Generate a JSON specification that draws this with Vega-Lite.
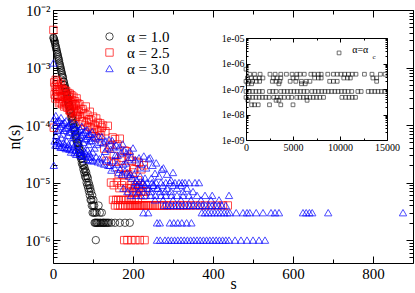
{
"$schema":"https://vega.github.io/schema/vega-lite/v6.json",
"width":360,"height":253,
"autosize":{"type":"none"},
"padding":{"left":53,"top":10,"right":2,"bottom":30},
"background":"white",
"config":{"view":{"stroke":null},"font":"Liberation Serif",
"axis":{"grid":false,"domainColor":"#000","tickColor":"#000","labelColor":"#000","titleColor":"#000","labelFont":"Liberation Serif","titleFont":"Liberation Serif","titleFontWeight":"normal","domainWidth":1,"tickWidth":1,"labelFlush":false}},
"resolve":{"scale":{"x":"independent","y":"independent"},"axis":{"x":"independent","y":"independent"}},
"datasets":{
"main":[
{"a":"1.0","s":1,"n":3.3e-3},{"a":"1.0","s":2,"n":3.2e-3},{"a":"1.0","s":3,"n":3.0e-3},{"a":"1.0","s":4,"n":2.85e-3},{"a":"1.0","s":5,"n":2.7e-3},{"a":"1.0","s":6,"n":2.45e-3},{"a":"1.0","s":7,"n":2.3e-3},{"a":"1.0","s":8,"n":2.15e-3},{"a":"1.0","s":9,"n":2.0e-3},{"a":"1.0","s":10,"n":1.86e-3},
{"a":"1.0","s":11,"n":1.74e-3},{"a":"1.0","s":12,"n":1.62e-3},{"a":"1.0","s":13,"n":1.51e-3},{"a":"1.0","s":14,"n":1.41e-3},{"a":"1.0","s":15,"n":1.32e-3},{"a":"1.0","s":16,"n":1.2e-3},{"a":"1.0","s":17,"n":1.12e-3},{"a":"1.0","s":18,"n":1.05e-3},{"a":"1.0","s":19,"n":9.8e-4},{"a":"1.0","s":20,"n":9.1e-4},
{"a":"1.0","s":21,"n":8.5e-4},{"a":"1.0","s":22,"n":7.9e-4},{"a":"1.0","s":23,"n":7.4e-4},{"a":"1.0","s":24,"n":6.9e-4},{"a":"1.0","s":25,"n":6.6e-4},{"a":"1.0","s":26,"n":5.7e-4},{"a":"1.0","s":27,"n":5.7e-4},{"a":"1.0","s":28,"n":4.9e-4},{"a":"1.0","s":29,"n":5.0e-4},{"a":"1.0","s":30,"n":4.3e-4},
{"a":"1.0","s":31,"n":4.4e-4},{"a":"1.0","s":32,"n":3.7e-4},{"a":"1.0","s":33,"n":3.8e-4},{"a":"1.0","s":34,"n":3.2e-4},{"a":"1.0","s":35,"n":3.4e-4},{"a":"1.0","s":36,"n":2.8e-4},{"a":"1.0","s":37,"n":2.9e-4},{"a":"1.0","s":38,"n":2.4e-4},{"a":"1.0","s":39,"n":2.5e-4},{"a":"1.0","s":40,"n":2.1e-4},
{"a":"1.0","s":41,"n":2.2e-4},{"a":"1.0","s":42,"n":1.8e-4},{"a":"1.0","s":43,"n":1.9e-4},{"a":"1.0","s":44,"n":1.6e-4},{"a":"1.0","s":45,"n":1.65e-4},{"a":"1.0","s":46,"n":1.35e-4},{"a":"1.0","s":47,"n":1.42e-4},{"a":"1.0","s":48,"n":1.17e-4},{"a":"1.0","s":49,"n":1.23e-4},{"a":"1.0","s":50,"n":1.02e-4},
{"a":"1.0","s":51,"n":1.07e-4},{"a":"1.0","s":52,"n":8.9e-5},{"a":"1.0","s":53,"n":9.3e-5},{"a":"1.0","s":54,"n":7.7e-5},{"a":"1.0","s":55,"n":8.1e-5},{"a":"1.0","s":56,"n":6.6e-5},{"a":"1.0","s":57,"n":6.9e-5},{"a":"1.0","s":58,"n":5.7e-5},{"a":"1.0","s":59,"n":6.0e-5},{"a":"1.0","s":60,"n":4.9e-5},
{"a":"1.0","s":61,"n":5.0e-5},{"a":"1.0","s":62,"n":4.4e-5},{"a":"1.0","s":63,"n":4.8e-5},{"a":"1.0","s":64,"n":3.9e-5},{"a":"1.0","s":65,"n":4.2e-5},{"a":"1.0","s":66,"n":3.3e-5},{"a":"1.0","s":67,"n":3.7e-5},{"a":"1.0","s":68,"n":2.9e-5},{"a":"1.0","s":69,"n":3.2e-5},{"a":"1.0","s":70,"n":2.6e-5},
{"a":"1.0","s":71,"n":2.9e-5},{"a":"1.0","s":72,"n":2.2e-5},{"a":"1.0","s":73,"n":2.6e-5},{"a":"1.0","s":74,"n":2.0e-5},{"a":"1.0","s":75,"n":2.3e-5},{"a":"1.0","s":76,"n":1.7e-5},{"a":"1.0","s":77,"n":2.0e-5},{"a":"1.0","s":78,"n":1.5e-5},{"a":"1.0","s":79,"n":1.8e-5},{"a":"1.0","s":80,"n":1.3e-5},
{"a":"1.0","s":81,"n":1.6e-5},{"a":"1.0","s":82,"n":1.2e-5},{"a":"1.0","s":83,"n":1.5e-5},{"a":"1.0","s":84,"n":1.0e-5},{"a":"1.0","s":85,"n":1.3e-5},{"a":"1.0","s":86,"n":9e-6},{"a":"1.0","s":87,"n":1.2e-5},{"a":"1.0","s":88,"n":8e-6},{"a":"1.0","s":89,"n":1.0e-5},{"a":"1.0","s":90,"n":7e-6},
{"a":"1.0","s":91,"n":9e-6},{"a":"1.0","s":92,"n":6e-6},{"a":"1.0","s":93,"n":8e-6},{"a":"1.0","s":94,"n":5e-6},{"a":"1.0","s":95,"n":7e-6},{"a":"1.0","s":96,"n":5e-6},{"a":"1.0","s":97,"n":4e-6},{"a":"1.0","s":98,"n":6e-6},{"a":"1.0","s":99,"n":3e-6},{"a":"1.0","s":100,"n":4e-6},
{"a":"1.0","s":101,"n":5e-6},{"a":"1.0","s":102,"n":3e-6},{"a":"1.0","s":103,"n":4e-6},{"a":"1.0","s":104,"n":2e-6},{"a":"1.0","s":105,"n":3e-6},{"a":"1.0","s":106,"n":2e-6},{"a":"1.0","s":107,"n":1e-6},{"a":"1.0","s":108,"n":2e-6},{"a":"1.0","s":109,"n":3e-6},{"a":"1.0","s":110,"n":2e-6},
{"a":"1.0","s":112,"n":2e-6},{"a":"1.0","s":114,"n":4e-6},{"a":"1.0","s":115,"n":2e-6},{"a":"1.0","s":117,"n":3e-6},{"a":"1.0","s":118,"n":2e-6},{"a":"1.0","s":120,"n":2e-6},{"a":"1.0","s":122,"n":3e-6},{"a":"1.0","s":124,"n":2e-6},{"a":"1.0","s":126,"n":2e-6},{"a":"1.0","s":128,"n":2e-6},
{"a":"1.0","s":131,"n":2e-6},{"a":"1.0","s":134,"n":2e-6},{"a":"1.0","s":137,"n":2e-6},{"a":"1.0","s":140,"n":2e-6},{"a":"1.0","s":146,"n":2e-6},{"a":"1.0","s":155,"n":2e-6},{"a":"1.0","s":167,"n":2e-6},{"a":"1.0","s":180,"n":2e-6},{"a":"1.0","s":192,"n":2e-6},
{"a":"2.5","s":1,"n":4.5e-3},{"a":"2.5","s":2,"n":9e-5},
{"a":"2.5","s":3,"n":5.5e-4},{"a":"2.5","s":4,"n":3.4e-4},{"a":"2.5","s":5,"n":4.6e-4},{"a":"2.5","s":6,"n":2.9e-4},{"a":"2.5","s":7,"n":6.1e-4},{"a":"2.5","s":8,"n":3.8e-4},{"a":"2.5","s":9,"n":5.0e-4},{"a":"2.5","s":10,"n":3.2e-4},{"a":"2.5","s":11,"n":4.2e-4},{"a":"2.5","s":12,"n":5.7e-4},
{"a":"2.5","s":13,"n":3.1e-4},{"a":"2.5","s":14,"n":4.1e-4},{"a":"2.5","s":15,"n":2.4e-4},{"a":"2.5","s":16,"n":4.7e-4},{"a":"2.5","s":17,"n":2.9e-4},{"a":"2.5","s":18,"n":4.0e-4},{"a":"2.5","s":19,"n":2.5e-4},{"a":"2.5","s":20,"n":5.2e-4},{"a":"2.5","s":21,"n":3.2e-4},{"a":"2.5","s":22,"n":4.3e-4},
{"a":"2.5","s":23,"n":2.3e-4},{"a":"2.5","s":24,"n":3.1e-4},{"a":"2.5","s":25,"n":4.2e-4},{"a":"2.5","s":26,"n":2.6e-4},{"a":"2.5","s":27,"n":3.6e-4},{"a":"2.5","s":28,"n":2.1e-4},{"a":"2.5","s":29,"n":4.0e-4},{"a":"2.5","s":30,"n":2.5e-4},{"a":"2.5","s":31,"n":3.4e-4},{"a":"2.5","s":32,"n":2.2e-4},
{"a":"2.5","s":33,"n":3.9e-4},{"a":"2.5","s":34,"n":2.4e-4},{"a":"2.5","s":35,"n":3.2e-4},{"a":"2.5","s":36,"n":2.0e-4},{"a":"2.5","s":37,"n":2.7e-4},{"a":"2.5","s":38,"n":3.6e-4},{"a":"2.5","s":39,"n":2.3e-4},{"a":"2.5","s":40,"n":3.1e-4},{"a":"2.5","s":41,"n":1.8e-4},{"a":"2.5","s":42,"n":3.5e-4},
{"a":"2.5","s":43,"n":1.8e-4},{"a":"2.5","s":44,"n":2.5e-4},{"a":"2.5","s":45,"n":1.6e-4},{"a":"2.5","s":46,"n":3.3e-4},{"a":"2.5","s":47,"n":2.1e-4},{"a":"2.5","s":48,"n":2.7e-4},{"a":"2.5","s":49,"n":1.7e-4},{"a":"2.5","s":50,"n":2.3e-4},{"a":"2.5","s":51,"n":3.1e-4},{"a":"2.5","s":52,"n":1.9e-4},
{"a":"2.5","s":53,"n":2.3e-4},{"a":"2.5","s":54,"n":1.3e-4},{"a":"2.5","s":55,"n":2.6e-4},{"a":"2.5","s":56,"n":1.6e-4},{"a":"2.5","s":57,"n":2.2e-4},{"a":"2.5","s":58,"n":1.4e-4},{"a":"2.5","s":59,"n":2.9e-4},{"a":"2.5","s":60,"n":1.8e-4},{"a":"2.5","s":61,"n":2.4e-4},{"a":"2.5","s":62,"n":1.5e-4},
{"a":"2.5","s":64,"n":1.7e-4},{"a":"2.5","s":66,"n":2.3e-4},{"a":"2.5","s":68,"n":1.4e-4},{"a":"2.5","s":70,"n":1.9e-4},{"a":"2.5","s":72,"n":1.15e-4},{"a":"2.5","s":74,"n":1.9e-4},{"a":"2.5","s":76,"n":1.16e-4},{"a":"2.5","s":78,"n":1.6e-4},{"a":"2.5","s":80,"n":1.0e-4},{"a":"2.5","s":82,"n":2.1e-4},
{"a":"2.5","s":84,"n":1.1e-4},{"a":"2.5","s":86,"n":1.5e-4},{"a":"2.5","s":88,"n":9.4e-5},{"a":"2.5","s":90,"n":1.25e-4},{"a":"2.5","s":92,"n":1.7e-4},{"a":"2.5","s":94,"n":9.1e-5},{"a":"2.5","s":96,"n":1.2e-4},{"a":"2.5","s":98,"n":7.3e-5},{"a":"2.5","s":100,"n":1.4e-4},{"a":"2.5","s":102,"n":8.6e-5},
{"a":"2.5","s":104,"n":1.0e-4},{"a":"2.5","s":106,"n":6.4e-5},{"a":"2.5","s":108,"n":1.3e-4},{"a":"2.5","s":110,"n":8.3e-5},{"a":"2.5","s":112,"n":1.1e-4},{"a":"2.5","s":114,"n":5.9e-5},{"a":"2.5","s":116,"n":7.9e-5},{"a":"2.5","s":118,"n":1.07e-4},{"a":"2.5","s":120,"n":6.7e-5},{"a":"2.5","s":122,"n":9.1e-5},
{"a":"2.5","s":125,"n":9.8e-5},{"a":"2.5","s":128,"n":3.9e-5},{"a":"2.5","s":131,"n":7.8e-5},{"a":"2.5","s":134,"n":2.4e-5},{"a":"2.5","s":137,"n":9.7e-5},{"a":"2.5","s":140,"n":4.1e-5},{"a":"2.5","s":143,"n":4.5e-5},{"a":"2.5","s":146,"n":2.3e-5},{"a":"2.5","s":149,"n":6.1e-5},{"a":"2.5","s":152,"n":2.9e-5},
{"a":"2.5","s":155,"n":5.7e-5},{"a":"2.5","s":158,"n":2.3e-5},{"a":"2.5","s":161,"n":4.6e-5},{"a":"2.5","s":164,"n":1.4e-5},{"a":"2.5","s":167,"n":5.8e-5},{"a":"2.5","s":170,"n":2.4e-5},{"a":"2.5","s":173,"n":2.7e-5},{"a":"2.5","s":176,"n":1.35e-5},{"a":"2.5","s":179,"n":3.6e-5},{"a":"2.5","s":182,"n":1.8e-5},
{"a":"2.5","s":185,"n":3.5e-5},{"a":"2.5","s":188,"n":1.4e-5},{"a":"2.5","s":191,"n":2.8e-5},{"a":"2.5","s":194,"n":9e-6},{"a":"2.5","s":197,"n":2.4e-5},{"a":"2.5","s":200,"n":1.5e-5},{"a":"2.5","s":203,"n":1.7e-5},{"a":"2.5","s":206,"n":8e-6},{"a":"2.5","s":209,"n":2.3e-5},{"a":"2.5","s":212,"n":1.1e-5},
{"a":"2.5","s":215,"n":2.2e-5},{"a":"2.5","s":218,"n":9e-6},{"a":"2.5","s":221,"n":1.7e-5},{"a":"2.5","s":224,"n":7e-6},{"a":"2.5","s":227,"n":2.0e-5},
{"a":"2.5","s":145,"n":1e-5},{"a":"2.5","s":152,"n":9e-6},{"a":"2.5","s":160,"n":1e-5},{"a":"2.5","s":166,"n":8e-6},{"a":"2.5","s":172,"n":9e-6},{"a":"2.5","s":178,"n":1e-5},{"a":"2.5","s":184,"n":8e-6},{"a":"2.5","s":190,"n":7e-6},{"a":"2.5","s":196,"n":8e-6},{"a":"2.5","s":200,"n":7e-6},
{"a":"2.5","s":205,"n":9e-6},{"a":"2.5","s":210,"n":7e-6},{"a":"2.5","s":215,"n":8e-6},{"a":"2.5","s":220,"n":7e-6},{"a":"2.5","s":226,"n":6e-6},{"a":"2.5","s":232,"n":7e-6},
{"a":"2.5","s":150,"n":5e-6},{"a":"2.5","s":158,"n":5e-6},{"a":"2.5","s":163,"n":5e-6},{"a":"2.5","s":170,"n":5e-6},{"a":"2.5","s":176,"n":5e-6},{"a":"2.5","s":183,"n":5e-6},{"a":"2.5","s":190,"n":5e-6},{"a":"2.5","s":197,"n":5e-6},{"a":"2.5","s":204,"n":5e-6},{"a":"2.5","s":212,"n":5e-6},
{"a":"2.5","s":155,"n":4e-6},{"a":"2.5","s":162,"n":4e-6},{"a":"2.5","s":168,"n":4e-6},{"a":"2.5","s":175,"n":4e-6},{"a":"2.5","s":181,"n":4e-6},{"a":"2.5","s":187,"n":4e-6},{"a":"2.5","s":192,"n":4e-6},{"a":"2.5","s":196,"n":4e-6},{"a":"2.5","s":200,"n":4e-6},{"a":"2.5","s":204,"n":4e-6},
{"a":"2.5","s":208,"n":4e-6},{"a":"2.5","s":212,"n":4e-6},{"a":"2.5","s":216,"n":4e-6},{"a":"2.5","s":220,"n":4e-6},{"a":"2.5","s":224,"n":4e-6},{"a":"2.5","s":228,"n":4e-6},{"a":"2.5","s":232,"n":4e-6},{"a":"2.5","s":236,"n":4e-6},{"a":"2.5","s":240,"n":4e-6},{"a":"2.5","s":245,"n":4e-6},
{"a":"2.5","s":250,"n":4e-6},{"a":"2.5","s":255,"n":4e-6},{"a":"2.5","s":260,"n":4e-6},{"a":"2.5","s":266,"n":4e-6},{"a":"2.5","s":272,"n":4e-6},{"a":"2.5","s":278,"n":4e-6},{"a":"2.5","s":285,"n":4e-6},{"a":"2.5","s":292,"n":4e-6},{"a":"2.5","s":300,"n":4e-6},{"a":"2.5","s":310,"n":4e-6},
{"a":"2.5","s":318,"n":4e-6},{"a":"2.5","s":326,"n":4e-6},{"a":"2.5","s":335,"n":4e-6},{"a":"2.5","s":345,"n":4e-6},{"a":"2.5","s":356,"n":4e-6},{"a":"2.5","s":368,"n":4e-6},{"a":"2.5","s":380,"n":4e-6},{"a":"2.5","s":395,"n":4e-6},{"a":"2.5","s":410,"n":4e-6},{"a":"2.5","s":425,"n":4e-6},{"a":"2.5","s":437,"n":4e-6},
{"a":"2.5","s":178,"n":1e-6},{"a":"2.5","s":186,"n":1e-6},{"a":"2.5","s":196,"n":1e-6},{"a":"2.5","s":206,"n":1e-6},{"a":"2.5","s":217,"n":1e-6},{"a":"2.5","s":229,"n":1e-6},
{"a":"3.0","s":1,"n":1.2e-3},{"a":"3.0","s":2,"n":2.0e-5},
{"a":"3.0","s":3,"n":1.3e-4},{"a":"3.0","s":4,"n":5.3e-5},{"a":"3.0","s":5,"n":1.0e-4},{"a":"3.0","s":6,"n":4.5e-5},{"a":"3.0","s":7,"n":1.46e-4},{"a":"3.0","s":8,"n":6.5e-5},{"a":"3.0","s":9,"n":1.13e-4},{"a":"3.0","s":10,"n":4.9e-5},{"a":"3.0","s":11,"n":8.1e-5},{"a":"3.0","s":12,"n":1.2e-4},
{"a":"3.0","s":13,"n":5.3e-5},{"a":"3.0","s":14,"n":8.6e-5},{"a":"3.0","s":15,"n":4.4e-5},{"a":"3.0","s":16,"n":1.2e-4},{"a":"3.0","s":17,"n":4.9e-5},{"a":"3.0","s":18,"n":9.4e-5},{"a":"3.0","s":19,"n":4.1e-5},{"a":"3.0","s":20,"n":1.35e-4},{"a":"3.0","s":21,"n":6.0e-5},{"a":"3.0","s":22,"n":1.05e-4},
{"a":"3.0","s":23,"n":4.2e-5},{"a":"3.0","s":24,"n":7.0e-5},{"a":"3.0","s":25,"n":1.05e-4},{"a":"3.0","s":26,"n":4.9e-5},{"a":"3.0","s":27,"n":8.1e-5},{"a":"3.0","s":28,"n":4.1e-5},{"a":"3.0","s":29,"n":1.12e-4},{"a":"3.0","s":30,"n":4.6e-5},{"a":"3.0","s":31,"n":8.8e-5},{"a":"3.0","s":32,"n":3.9e-5},
{"a":"3.0","s":33,"n":1.19e-4},{"a":"3.0","s":34,"n":5.3e-5},{"a":"3.0","s":35,"n":9.2e-5},{"a":"3.0","s":36,"n":4.0e-5},{"a":"3.0","s":37,"n":6.6e-5},{"a":"3.0","s":38,"n":9.9e-5},{"a":"3.0","s":39,"n":4.6e-5},{"a":"3.0","s":40,"n":7.6e-5},{"a":"3.0","s":41,"n":3.8e-5},{"a":"3.0","s":42,"n":1.06e-4},
{"a":"3.0","s":43,"n":4.0e-5},{"a":"3.0","s":44,"n":7.6e-5},{"a":"3.0","s":45,"n":3.4e-5},{"a":"3.0","s":46,"n":1.1e-4},{"a":"3.0","s":47,"n":4.9e-5},{"a":"3.0","s":48,"n":8.5e-5},{"a":"3.0","s":49,"n":3.7e-5},{"a":"3.0","s":50,"n":6.1e-5},{"a":"3.0","s":51,"n":9.2e-5},{"a":"3.0","s":52,"n":4.3e-5},
{"a":"3.0","s":53,"n":6.6e-5},{"a":"3.0","s":54,"n":3.3e-5},{"a":"3.0","s":55,"n":9.1e-5},{"a":"3.0","s":56,"n":3.7e-5},{"a":"3.0","s":57,"n":7.1e-5},{"a":"3.0","s":58,"n":3.1e-5},{"a":"3.0","s":59,"n":1.03e-4},{"a":"3.0","s":60,"n":4.6e-5},{"a":"3.0","s":61,"n":8.0e-5},{"a":"3.0","s":62,"n":3.4e-5},
{"a":"3.0","s":63,"n":5.3e-5},{"a":"3.0","s":64,"n":8.0e-5},{"a":"3.0","s":65,"n":3.7e-5},{"a":"3.0","s":66,"n":6.1e-5},{"a":"3.0","s":67,"n":3.1e-5},{"a":"3.0","s":68,"n":8.5e-5},{"a":"3.0","s":69,"n":3.4e-5},{"a":"3.0","s":70,"n":6.6e-5},{"a":"3.0","s":71,"n":2.9e-5},{"a":"3.0","s":72,"n":9.5e-5},
{"a":"3.0","s":73,"n":4.0e-5},{"a":"3.0","s":74,"n":7.0e-5},{"a":"3.0","s":75,"n":3.0e-5},{"a":"3.0","s":76,"n":5.0e-5},{"a":"3.0","s":77,"n":7.5e-5},{"a":"3.0","s":78,"n":3.5e-5},{"a":"3.0","s":79,"n":5.8e-5},{"a":"3.0","s":80,"n":2.9e-5},{"a":"3.0","s":81,"n":8.0e-5},{"a":"3.0","s":82,"n":3.3e-5},
{"a":"3.0","s":83,"n":5.8e-5},{"a":"3.0","s":84,"n":2.5e-5},{"a":"3.0","s":85,"n":8.3e-5},{"a":"3.0","s":86,"n":3.7e-5},{"a":"3.0","s":87,"n":6.4e-5},{"a":"3.0","s":88,"n":2.8e-5},{"a":"3.0","s":89,"n":4.6e-5},{"a":"3.0","s":90,"n":6.9e-5},{"a":"3.0","s":91,"n":3.2e-5},{"a":"3.0","s":92,"n":5.3e-5},
{"a":"3.0","s":93,"n":2.5e-5},{"a":"3.0","s":94,"n":6.9e-5},{"a":"3.0","s":95,"n":2.8e-5},{"a":"3.0","s":96,"n":5.4e-5},{"a":"3.0","s":97,"n":2.4e-5},{"a":"3.0","s":98,"n":7.7e-5},{"a":"3.0","s":99,"n":3.4e-5},{"a":"3.0","s":100,"n":6.0e-5},
{"a":"3.0","s":102,"n":2.4e-5},{"a":"3.0","s":104,"n":4.0e-5},{"a":"3.0","s":106,"n":6.0e-5},{"a":"3.0","s":108,"n":2.8e-5},{"a":"3.0","s":110,"n":4.6e-5},{"a":"3.0","s":112,"n":2.3e-5},{"a":"3.0","s":114,"n":6.4e-5},{"a":"3.0","s":116,"n":2.6e-5},{"a":"3.0","s":118,"n":5.0e-5},{"a":"3.0","s":120,"n":2.2e-5},
{"a":"3.0","s":122,"n":6.3e-5},{"a":"3.0","s":124,"n":2.8e-5},{"a":"3.0","s":126,"n":4.9e-5},{"a":"3.0","s":128,"n":2.1e-5},{"a":"3.0","s":130,"n":3.5e-5},{"a":"3.0","s":132,"n":5.3e-5},{"a":"3.0","s":134,"n":2.5e-5},{"a":"3.0","s":136,"n":4.0e-5},{"a":"3.0","s":138,"n":2.0e-5},{"a":"3.0","s":140,"n":5.6e-5},
{"a":"3.0","s":142,"n":2.0e-5},{"a":"3.0","s":144,"n":3.8e-5},{"a":"3.0","s":146,"n":1.65e-5},{"a":"3.0","s":148,"n":5.4e-5},{"a":"3.0","s":150,"n":2.4e-5},{"a":"3.0","s":152,"n":4.2e-5},{"a":"3.0","s":154,"n":1.8e-5},{"a":"3.0","s":156,"n":3.0e-5},{"a":"3.0","s":158,"n":4.5e-5},{"a":"3.0","s":160,"n":2.1e-5},
{"a":"3.0","s":162,"n":3.0e-5},{"a":"3.0","s":164,"n":1.5e-5},{"a":"3.0","s":166,"n":4.2e-5},{"a":"3.0","s":168,"n":1.7e-5},{"a":"3.0","s":170,"n":3.3e-5},{"a":"3.0","s":172,"n":1.4e-5},{"a":"3.0","s":174,"n":4.7e-5},{"a":"3.0","s":176,"n":2.1e-5},{"a":"3.0","s":178,"n":3.6e-5},{"a":"3.0","s":180,"n":1.6e-5},
{"a":"3.0","s":182,"n":2.2e-5},{"a":"3.0","s":184,"n":3.3e-5},{"a":"3.0","s":186,"n":1.5e-5},{"a":"3.0","s":188,"n":2.5e-5},{"a":"3.0","s":190,"n":1.3e-5},{"a":"3.0","s":192,"n":3.5e-5},{"a":"3.0","s":194,"n":1.4e-5},{"a":"3.0","s":196,"n":2.75e-5},{"a":"3.0","s":198,"n":1.2e-5},{"a":"3.0","s":200,"n":4.0e-5},
{"a":"3.0","s":203,"n":1.4e-5},{"a":"3.0","s":206,"n":2.5e-5},{"a":"3.0","s":209,"n":1.1e-5},{"a":"3.0","s":212,"n":1.8e-5},{"a":"3.0","s":215,"n":2.7e-5},{"a":"3.0","s":218,"n":1.3e-5},{"a":"3.0","s":221,"n":2.1e-5},{"a":"3.0","s":224,"n":1.0e-5},{"a":"3.0","s":227,"n":2.9e-5},{"a":"3.0","s":230,"n":1.2e-5},
{"a":"3.0","s":233,"n":1.8e-5},{"a":"3.0","s":236,"n":8e-6},{"a":"3.0","s":239,"n":2.6e-5},{"a":"3.0","s":243,"n":2.7e-5},{"a":"3.0","s":246,"n":1.2e-5},{"a":"3.0","s":249,"n":2.0e-5},{"a":"3.0","s":252,"n":9e-6},{"a":"3.0","s":255,"n":1.45e-5},{"a":"3.0","s":258,"n":2.2e-5},{"a":"3.0","s":262,"n":8e-6},
{"a":"3.0","s":265,"n":1.3e-5},{"a":"3.0","s":272,"n":1.7e-5},{"a":"3.0","s":276,"n":1.8e-5},{"a":"3.0","s":280,"n":7e-6},{"a":"3.0","s":285,"n":1.4e-5},{"a":"3.0","s":295,"n":1.1e-5},{"a":"3.0","s":300,"n":1.5e-5},{"a":"3.0","s":323,"n":1e-5},{"a":"3.0","s":355,"n":1e-5},{"a":"3.0","s":380,"n":6e-6},
{"a":"3.0","s":440,"n":6e-6},{"a":"3.0","s":485,"n":3e-6},{"a":"3.0","s":176,"n":8e-6},{"a":"3.0","s":186,"n":7e-6},
{"a":"3.0","s":205,"n":1e-5},{"a":"3.0","s":215,"n":1e-5},{"a":"3.0","s":225,"n":1e-5},{"a":"3.0","s":235,"n":1e-5},{"a":"3.0","s":248,"n":1e-5},{"a":"3.0","s":258,"n":1e-5},{"a":"3.0","s":270,"n":1e-5},{"a":"3.0","s":282,"n":1e-5},{"a":"3.0","s":292,"n":1e-5},{"a":"3.0","s":305,"n":1e-5},{"a":"3.0","s":315,"n":1e-5},{"a":"3.0","s":330,"n":1e-5},{"a":"3.0","s":340,"n":1e-5},{"a":"3.0","s":365,"n":1e-5},
{"a":"3.0","s":210,"n":9e-6},{"a":"3.0","s":230,"n":9e-6},{"a":"3.0","s":250,"n":9e-6},{"a":"3.0","s":275,"n":9e-6},{"a":"3.0","s":300,"n":9e-6},{"a":"3.0","s":320,"n":9e-6},
{"a":"3.0","s":200,"n":8e-6},{"a":"3.0","s":220,"n":8e-6},{"a":"3.0","s":240,"n":8e-6},{"a":"3.0","s":260,"n":8e-6},{"a":"3.0","s":285,"n":8e-6},{"a":"3.0","s":310,"n":8e-6},{"a":"3.0","s":335,"n":8e-6},
{"a":"3.0","s":213,"n":7e-6},{"a":"3.0","s":245,"n":7e-6},{"a":"3.0","s":268,"n":7e-6},{"a":"3.0","s":295,"n":7e-6},{"a":"3.0","s":325,"n":7e-6},{"a":"3.0","s":350,"n":7e-6},
{"a":"3.0","s":195,"n":6e-6},{"a":"3.0","s":208,"n":6e-6},{"a":"3.0","s":220,"n":6e-6},{"a":"3.0","s":232,"n":6e-6},{"a":"3.0","s":244,"n":6e-6},{"a":"3.0","s":256,"n":6e-6},{"a":"3.0","s":270,"n":6e-6},{"a":"3.0","s":282,"n":6e-6},{"a":"3.0","s":296,"n":6e-6},{"a":"3.0","s":310,"n":6e-6},{"a":"3.0","s":325,"n":6e-6},{"a":"3.0","s":340,"n":6e-6},{"a":"3.0","s":360,"n":6e-6},{"a":"3.0","s":398,"n":6e-6},
{"a":"3.0","s":255,"n":5e-6},{"a":"3.0","s":275,"n":5e-6},{"a":"3.0","s":300,"n":5e-6},{"a":"3.0","s":320,"n":5e-6},{"a":"3.0","s":345,"n":5e-6},{"a":"3.0","s":370,"n":5e-6},{"a":"3.0","s":395,"n":5e-6},{"a":"3.0","s":415,"n":5e-6},
{"a":"3.0","s":278,"n":4e-6},{"a":"3.0","s":286,"n":4e-6},{"a":"3.0","s":294,"n":4e-6},{"a":"3.0","s":302,"n":4e-6},{"a":"3.0","s":310,"n":4e-6},{"a":"3.0","s":318,"n":4e-6},{"a":"3.0","s":326,"n":4e-6},{"a":"3.0","s":334,"n":4e-6},{"a":"3.0","s":342,"n":4e-6},{"a":"3.0","s":350,"n":4e-6},
{"a":"3.0","s":358,"n":4e-6},{"a":"3.0","s":366,"n":4e-6},{"a":"3.0","s":374,"n":4e-6},{"a":"3.0","s":382,"n":4e-6},{"a":"3.0","s":390,"n":4e-6},{"a":"3.0","s":398,"n":4e-6},{"a":"3.0","s":406,"n":4e-6},{"a":"3.0","s":414,"n":4e-6},{"a":"3.0","s":422,"n":4e-6},{"a":"3.0","s":432,"n":4e-6},
{"a":"3.0","s":226,"n":3e-6},{"a":"3.0","s":238,"n":3e-6},{"a":"3.0","s":372,"n":3e-6},{"a":"3.0","s":380,"n":3e-6},{"a":"3.0","s":388,"n":3e-6},{"a":"3.0","s":396,"n":3e-6},{"a":"3.0","s":404,"n":3e-6},{"a":"3.0","s":412,"n":3e-6},{"a":"3.0","s":420,"n":3e-6},{"a":"3.0","s":428,"n":3e-6},
{"a":"3.0","s":436,"n":3e-6},{"a":"3.0","s":442,"n":3e-6},{"a":"3.0","s":458,"n":3e-6},{"a":"3.0","s":475,"n":3e-6},{"a":"3.0","s":492,"n":3e-6},{"a":"3.0","s":508,"n":3e-6},{"a":"3.0","s":525,"n":3e-6},{"a":"3.0","s":545,"n":3e-6},{"a":"3.0","s":555,"n":3e-6},{"a":"3.0","s":565,"n":3e-6},
{"a":"3.0","s":625,"n":3e-6},{"a":"3.0","s":633,"n":3e-6},{"a":"3.0","s":641,"n":3e-6},{"a":"3.0","s":648,"n":3e-6},{"a":"3.0","s":688,"n":3e-6},{"a":"3.0","s":875,"n":3e-6},
{"a":"3.0","s":260,"n":2e-6},{"a":"3.0","s":267,"n":2e-6},{"a":"3.0","s":292,"n":2e-6},{"a":"3.0","s":302,"n":2e-6},{"a":"3.0","s":312,"n":2e-6},{"a":"3.0","s":322,"n":2e-6},{"a":"3.0","s":334,"n":2e-6},{"a":"3.0","s":346,"n":2e-6},
{"a":"3.0","s":260,"n":1e-6},{"a":"3.0","s":268,"n":1e-6},{"a":"3.0","s":280,"n":1e-6},{"a":"3.0","s":288,"n":1e-6},{"a":"3.0","s":296,"n":1e-6},{"a":"3.0","s":304,"n":1e-6},{"a":"3.0","s":312,"n":1e-6},{"a":"3.0","s":320,"n":1e-6},{"a":"3.0","s":328,"n":1e-6},{"a":"3.0","s":336,"n":1e-6},
{"a":"3.0","s":344,"n":1e-6},{"a":"3.0","s":352,"n":1e-6},{"a":"3.0","s":360,"n":1e-6},{"a":"3.0","s":368,"n":1e-6},{"a":"3.0","s":376,"n":1e-6},{"a":"3.0","s":384,"n":1e-6},{"a":"3.0","s":392,"n":1e-6},{"a":"3.0","s":400,"n":1e-6},{"a":"3.0","s":408,"n":1e-6},{"a":"3.0","s":416,"n":1e-6},
{"a":"3.0","s":424,"n":1e-6},{"a":"3.0","s":432,"n":1e-6},{"a":"3.0","s":440,"n":1e-6},{"a":"3.0","s":455,"n":1e-6},{"a":"3.0","s":470,"n":1e-6},{"a":"3.0","s":485,"n":1e-6},{"a":"3.0","s":500,"n":1e-6},{"a":"3.0","s":515,"n":1e-6},{"a":"3.0","s":530,"n":1e-6}
],
"inset":[
{"t":0,"v":6e-7},{"t":9900,"v":2.6e-6},
{"t":400,"v":3.8e-7},{"t":900,"v":3.8e-7},{"t":1500,"v":3.8e-7},{"t":2550,"v":3.8e-7},{"t":3100,"v":3.8e-7},{"t":3700,"v":3.8e-7},{"t":4300,"v":3.8e-7},{"t":4900,"v":3.8e-7},{"t":5400,"v":3.8e-7},{"t":5750,"v":3.8e-7},{"t":6200,"v":3.8e-7},{"t":6900,"v":3.8e-7},{"t":7250,"v":3.8e-7},{"t":7700,"v":3.8e-7},{"t":8000,"v":3.8e-7},{"t":8700,"v":3.8e-7},{"t":9300,"v":3.8e-7},{"t":9700,"v":3.8e-7},{"t":10100,"v":3.8e-7},{"t":10500,"v":3.8e-7},{"t":10900,"v":3.8e-7},{"t":11300,"v":3.8e-7},{"t":11700,"v":3.8e-7},{"t":12600,"v":3.8e-7},{"t":13400,"v":3.8e-7},{"t":14300,"v":3.8e-7},{"t":14800,"v":3.8e-7},
{"t":150,"v":2.7e-7},{"t":550,"v":2.7e-7},{"t":1000,"v":2.7e-7},{"t":1400,"v":2.7e-7},{"t":1800,"v":2.7e-7},{"t":2900,"v":2.7e-7},{"t":3300,"v":2.7e-7},{"t":3700,"v":2.7e-7},{"t":5000,"v":2.7e-7},{"t":5400,"v":2.7e-7},{"t":7300,"v":2.7e-7},{"t":7700,"v":2.7e-7},{"t":8000,"v":2.7e-7},{"t":10400,"v":2.7e-7},{"t":10800,"v":2.7e-7},{"t":11100,"v":2.7e-7},{"t":13500,"v":2.7e-7},{"t":13900,"v":2.7e-7},
{"t":0,"v":2.0e-7},{"t":300,"v":2.0e-7},{"t":700,"v":2.0e-7},{"t":1100,"v":2.0e-7},{"t":1450,"v":2.0e-7},{"t":2800,"v":2.0e-7},{"t":3200,"v":2.0e-7},{"t":3600,"v":2.0e-7},{"t":4700,"v":2.0e-7},{"t":5300,"v":2.0e-7},{"t":5900,"v":2.0e-7},{"t":6400,"v":2.0e-7},{"t":6800,"v":2.0e-7},{"t":8900,"v":2.0e-7},{"t":9300,"v":2.0e-7},{"t":9700,"v":2.0e-7},{"t":13900,"v":2.0e-7},
{"t":200,"v":1.6e-7},{"t":600,"v":1.6e-7},{"t":3500,"v":1.6e-7},{"t":5900,"v":1.6e-7},{"t":6300,"v":1.6e-7},
{"t":0,"v":8e-8},{"t":350,"v":8e-8},{"t":700,"v":8e-8},{"t":1050,"v":8e-8},{"t":1400,"v":8e-8},{"t":1750,"v":8e-8},{"t":2500,"v":8e-8},{"t":2850,"v":8e-8},{"t":3200,"v":8e-8},{"t":3700,"v":8e-8},{"t":4050,"v":8e-8},{"t":4400,"v":8e-8},{"t":4750,"v":8e-8},{"t":5100,"v":8e-8},{"t":5450,"v":8e-8},{"t":5800,"v":8e-8},{"t":6150,"v":8e-8},{"t":6500,"v":8e-8},{"t":7000,"v":8e-8},{"t":7350,"v":8e-8},{"t":7700,"v":8e-8},{"t":8050,"v":8e-8},{"t":8400,"v":8e-8},{"t":8750,"v":8e-8},{"t":9100,"v":8e-8},{"t":9450,"v":8e-8},{"t":9800,"v":8e-8},{"t":10150,"v":8e-8},{"t":10500,"v":8e-8},{"t":10850,"v":8e-8},{"t":11250,"v":8e-8},{"t":11900,"v":8e-8},{"t":12250,"v":8e-8},{"t":13000,"v":8e-8},{"t":13350,"v":8e-8},{"t":13700,"v":8e-8},{"t":14050,"v":8e-8},{"t":14400,"v":8e-8},{"t":14750,"v":8e-8},
{"t":0,"v":4.7e-8},{"t":350,"v":4.7e-8},{"t":700,"v":4.7e-8},{"t":1050,"v":4.7e-8},{"t":1400,"v":4.7e-8},{"t":1750,"v":4.7e-8},{"t":2100,"v":4.7e-8},{"t":2450,"v":4.7e-8},{"t":2950,"v":4.7e-8},{"t":3300,"v":4.7e-8},{"t":3700,"v":4.7e-8},{"t":4050,"v":4.7e-8},{"t":4500,"v":4.7e-8},{"t":4850,"v":4.7e-8},{"t":5400,"v":4.7e-8},{"t":5750,"v":4.7e-8},{"t":6100,"v":4.7e-8},{"t":6450,"v":4.7e-8},{"t":6800,"v":4.7e-8},{"t":7150,"v":4.7e-8},{"t":7500,"v":4.7e-8},{"t":7850,"v":4.7e-8},{"t":8250,"v":4.7e-8},{"t":10200,"v":4.7e-8},{"t":10600,"v":4.7e-8},{"t":10950,"v":4.7e-8},{"t":11300,"v":4.7e-8},{"t":11650,"v":4.7e-8},
{"t":200,"v":3.6e-8},{"t":3200,"v":3.6e-8},{"t":3500,"v":3.6e-8},{"t":6500,"v":3.6e-8},
{"t":600,"v":2.4e-8},{"t":900,"v":2.4e-8},{"t":1300,"v":2.4e-8},{"t":2500,"v":2.4e-8},{"t":3700,"v":2.4e-8},{"t":5000,"v":2.4e-8}
]},
"layer":[
{"data":{"name":"main"},
"mark":{"type":"point","filled":false,"strokeWidth":1,"size":55},
"encoding":{
"x":{"field":"s","type":"quantitative","scale":{"domain":[0,900],"nice":false,"zero":false},
"axis":{"orient":"bottom","values":[0,200,400,600,800],"tickSize":-7,"labelPadding":10,"labelFontSize":15,"title":"s","titleFontSize":16,"titlePadding":-6}},
"y":{"field":"n","type":"quantitative","scale":{"type":"log","domain":[4e-7,0.01],"nice":false},
"axis":{"orient":"left","values":[1e-6,1e-5,1e-4,1e-3,1e-2],"tickSize":-7,"labelPadding":10,"labelFontSize":15,"labelExpr":"datum.value > 0.005 ? '10⁻²' : datum.value > 0.0005 ? '10⁻³' : datum.value > 0.00005 ? '10⁻⁴' : datum.value > 0.000005 ? '10⁻⁵' : '10⁻⁶'","title":"n(s)","titleFontSize":16,"titlePadding":2}},
"color":{"field":"a","type":"nominal","scale":{"domain":["1.0","2.5","3.0"],"range":["#000000","#ff0000","#0000ff"]},
"legend":{"title":null,"orient":"none","legendX":49,"legendY":19,"labelExpr":"'α = ' + datum.label","labelFont":"Liberation Serif","labelFontSize":15,"symbolSize":55,"symbolStrokeWidth":1,"rowPadding":-4,"labelOffset":10,"padding":0}},
"shape":{"field":"a","type":"nominal","scale":{"domain":["1.0","2.5","3.0"],"range":["circle","square","triangle-up"]},
"legend":{"title":null,"orient":"none","legendX":49,"legendY":19,"labelExpr":"'α = ' + datum.label","labelFont":"Liberation Serif","labelFontSize":15,"symbolSize":55,"symbolStrokeWidth":1,"rowPadding":-4,"labelOffset":10,"padding":0}}
}},
{"data":{"values":[{}]},"mark":{"type":"point","opacity":0},
"encoding":{
"x":{"datum":0,"type":"quantitative","scale":{"domain":[0,900],"nice":false,"zero":false},"axis":{"orient":"bottom","values":[100,300,500,700,900],"tickSize":-4,"labels":false,"domain":false,"title":null}},
"y":{"datum":1e-3,"type":"quantitative","scale":{"type":"log","domain":[4e-7,0.01],"nice":false},"axis":{"orient":"left","values":[5e-7,6e-7,7e-7,8e-7,9e-7,2e-6,3e-6,4e-6,5e-6,6e-6,7e-6,8e-6,9e-6,2e-5,3e-5,4e-5,5e-5,6e-5,7e-5,8e-5,9e-5,2e-4,3e-4,4e-4,5e-4,6e-4,7e-4,8e-4,9e-4,2e-3,3e-3,4e-3,5e-3,6e-3,7e-3,8e-3,9e-3],"tickSize":-4,"labels":false,"domain":false,"title":null}}
}},
{"data":{"values":[{}]},"mark":{"type":"point","opacity":0},
"encoding":{
"x":{"datum":0,"type":"quantitative","scale":{"domain":[0,900],"nice":false,"zero":false},"axis":{"orient":"top","values":[0,200,400,600,800],"tickSize":-7,"labels":false,"domain":true,"title":null}},
"y":{"datum":1e-3,"type":"quantitative","scale":{"type":"log","domain":[4e-7,0.01],"nice":false},"axis":{"orient":"right","values":[1e-6,1e-5,1e-4,1e-3,1e-2],"tickSize":-7,"labels":false,"domain":true,"title":null}}
}},
{"data":{"values":[{}]},"mark":{"type":"point","opacity":0},
"encoding":{
"x":{"datum":0,"type":"quantitative","scale":{"domain":[0,900],"nice":false,"zero":false},"axis":{"orient":"top","values":[100,300,500,700,900],"tickSize":-4,"labels":false,"domain":false,"title":null}},
"y":{"datum":1e-3,"type":"quantitative","scale":{"type":"log","domain":[4e-7,0.01],"nice":false},"axis":{"orient":"right","values":[5e-7,6e-7,7e-7,8e-7,9e-7,2e-6,3e-6,4e-6,5e-6,6e-6,7e-6,8e-6,9e-6,2e-5,3e-5,4e-5,5e-5,6e-5,7e-5,8e-5,9e-5,2e-4,3e-4,4e-4,5e-4,6e-4,7e-4,8e-4,9e-4,2e-3,3e-3,4e-3,5e-3,6e-3,7e-3,8e-3,9e-3],"tickSize":-4,"labels":false,"domain":false,"title":null}}
}},
{"data":{"name":"inset"},
"mark":{"type":"point","shape":"square","filled":false,"strokeWidth":0.8,"size":14,"color":"#000"},
"encoding":{
"x":{"field":"t","type":"quantitative","scale":{"domain":[0,15000],"range":[193,334],"nice":false,"zero":false},
"axis":{"orient":"bottom","offset":-123,"values":[0,5000,10000,15000],"format":"d","tickSize":-4,"labelPadding":6,"labelFontSize":10,"title":null}},
"y":{"field":"v","type":"quantitative","scale":{"type":"log","domain":[1e-9,1e-5],"range":[130,28],"nice":false},
"axis":{"orient":"left","offset":-193,"values":[1e-9,1e-8,1e-7,1e-6,1e-5],"tickSize":-4,"labelPadding":6,"labelFontSize":10,"labelExpr":"datum.value > 5e-6 ? '1e-05' : datum.value > 5e-7 ? '1e-06' : datum.value > 5e-8 ? '1e-07' : datum.value > 5e-9 ? '1e-08' : '1e-09'","title":null}}
}},
{"data":{"values":[{}]},"mark":{"type":"point","opacity":0},
"encoding":{
"x":{"datum":0,"type":"quantitative","scale":{"domain":[0,15000],"range":[193,334],"nice":false,"zero":false},"axis":{"orient":"bottom","offset":-123,"values":[2500,7500,12500],"tickSize":-2,"labels":false,"domain":false,"title":null}},
"y":{"datum":1e-7,"type":"quantitative","scale":{"type":"log","domain":[1e-9,1e-5],"range":[130,28],"nice":false},"axis":{"orient":"left","offset":-193,"values":[2e-9,3e-9,4e-9,5e-9,6e-9,7e-9,8e-9,9e-9,2e-8,3e-8,4e-8,5e-8,6e-8,7e-8,8e-8,9e-8,2e-7,3e-7,4e-7,5e-7,6e-7,7e-7,8e-7,9e-7,2e-6,3e-6,4e-6,5e-6,6e-6,7e-6,8e-6,9e-6],"tickSize":-2,"labels":false,"domain":false,"title":null}}
}},
{"data":{"values":[{}]},"mark":{"type":"point","opacity":0},
"encoding":{
"x":{"datum":0,"type":"quantitative","scale":{"domain":[0,15000],"range":[193,334],"nice":false,"zero":false},"axis":{"orient":"top","offset":-28,"values":[0,5000,10000,15000],"tickSize":-4,"labels":false,"domain":true,"title":null}},
"y":{"datum":1e-7,"type":"quantitative","scale":{"type":"log","domain":[1e-9,1e-5],"range":[130,28],"nice":false},"axis":{"orient":"right","offset":-26,"values":[1e-9,1e-8,1e-7,1e-6,1e-5],"tickSize":-4,"labels":false,"domain":true,"title":null}}
}},
{"data":{"values":[{}]},"mark":{"type":"point","opacity":0},
"encoding":{
"x":{"datum":0,"type":"quantitative","scale":{"domain":[0,15000],"range":[193,334],"nice":false,"zero":false},"axis":{"orient":"top","offset":-28,"values":[2500,7500,12500],"tickSize":-2,"labels":false,"domain":false,"title":null}},
"y":{"datum":1e-7,"type":"quantitative","scale":{"type":"log","domain":[1e-9,1e-5],"range":[130,28],"nice":false},"axis":{"orient":"right","offset":-26,"values":[2e-9,3e-9,4e-9,5e-9,6e-9,7e-9,8e-9,9e-9,2e-8,3e-8,4e-8,5e-8,6e-8,7e-8,8e-8,9e-8,2e-7,3e-7,4e-7,5e-7,6e-7,7e-7,8e-7,9e-7,2e-6,3e-6,4e-6,5e-6,6e-6,7e-6,8e-6,9e-6],"tickSize":-2,"labels":false,"domain":false,"title":null}}
}},
{"data":{"values":[{"label":"α=α"}]},"mark":{"type":"text","font":"Liberation Serif","fontSize":10,"align":"left","baseline":"middle","color":"#000"},
"encoding":{
"x":{"datum":11300,"type":"quantitative","scale":{"domain":[0,15000],"range":[193,334],"nice":false,"zero":false},"axis":null},
"y":{"datum":3.4e-6,"type":"quantitative","scale":{"type":"log","domain":[1e-9,1e-5],"range":[130,28],"nice":false},"axis":null},
"text":{"field":"label"}}},
{"data":{"values":[{"label":"c"}]},"mark":{"type":"text","font":"Liberation Serif","fontSize":7,"align":"left","baseline":"middle","color":"#000"},
"encoding":{
"x":{"datum":13450,"type":"quantitative","scale":{"domain":[0,15000],"range":[193,334],"nice":false,"zero":false},"axis":null},
"y":{"datum":1.8e-6,"type":"quantitative","scale":{"type":"log","domain":[1e-9,1e-5],"range":[130,28],"nice":false},"axis":null},
"text":{"field":"label"}}}
]
}
